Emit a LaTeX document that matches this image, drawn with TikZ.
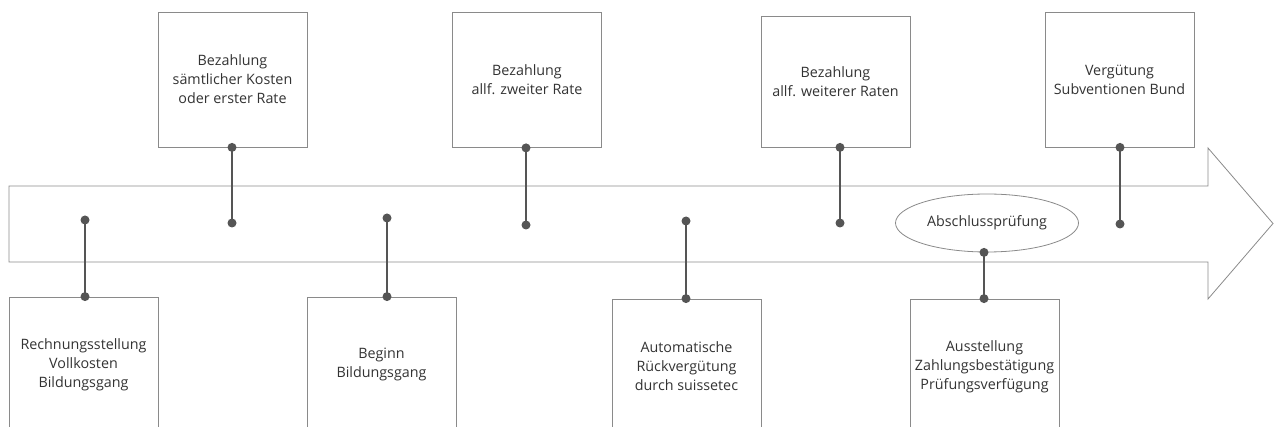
\documentclass[tikz,border=0pt]{standalone}
\usepackage{fontspec}
\setmainfont{Open Sans}
\usetikzlibrary{shapes.geometric}
\definecolor{boxline}{HTML}{8A8A8A}
\definecolor{connc}{HTML}{555555}
\definecolor{txt}{HTML}{333333}
\begin{document}
\begin{tikzpicture}[x=1pt,y=-1pt,
  box/.style={draw=boxline, line width=0.8pt, fill=white, minimum width=149pt, minimum height=135pt,
    align=center, font=\fontsize{14.3}{19}\selectfont, text=txt, inner sep=0pt},
  oval/.style={ellipse, draw=boxline, line width=0.8pt, fill=white, minimum width=183pt, minimum height=58pt,
    inner sep=0pt, font=\fontsize{14.3}{19}\selectfont, text=txt},
  dot/.style={circle, fill=connc, inner sep=0pt, minimum size=9pt},
  connline/.style={draw=connc, line width=1.6pt}]
\useasboundingbox (0,0) rectangle (1274,427);
\clip (0,0) rectangle (1274,427);
% timeline arrow
\draw[boxline, line width=0.8pt, line join=miter]
  (9,186) -- (1208,186) -- (1208,148) -- (1273,223.5) -- (1208,299) -- (1208,262) -- (9,262) -- cycle;
% top boxes
\node[box] (t1) at (232.5,79.5) {Bezahlung\\sämtlicher Kosten\\oder erster Rate};
\node[box] (t2) at (527,80) {Bezahlung\\allf. zweiter Rate};
\node[box, minimum height=131pt] (t3) at (835.5,81.5) {Bezahlung\\allf. weiterer Raten};
\node[box] (t4) at (1119.5,79.5) {Vergütung\\Subventionen Bund};
% bottom boxes
\node[box] (b1) at (83.5,364.5) {Rechnungsstellung\\Vollkosten\\Bildungsgang};
\node[box] (b2) at (381.5,364.5) {Beginn\\Bildungsgang};
\node[box] (b3) at (686.5,366.5) {Automatische\\Rückvergütung\\durch suissetec};
\node[box] (b4) at (984.5,366.5) {Ausstellung\\Zahlungsbestätigung\\Prüfungsverfügung};
% exam oval
\node[oval] (ex) at (987,223) {Abschlussprüfung};
% free ends
\coordinate (e1) at (232,223);
\coordinate (e2) at (526,225);
\coordinate (e3) at (840,223);
\coordinate (e4) at (1120,224);
\coordinate (f1) at (85,220);
\coordinate (f2) at (387,218);
\coordinate (f3) at (686,221);
\coordinate (f4) at (984,250);
% connectors
\foreach \b/\e in {t1/e1,t2/e2,t3/e3,t4/e4} {
  \draw[connline] (\b.south -| \e) -- (\e);
  \node[dot] at (\b.south -| \e) {};
  \node[dot] at (\e) {};
}
\foreach \b/\e in {b1/f1,b2/f2,b3/f3} {
  \draw[connline] (\b.north -| \e) -- (\e);
  \node[dot] at (\b.north -| \e) {};
  \node[dot] at (\e) {};
}
\draw[connline] (b4.north -| f4) -- (ex.south -| f4);
\node[dot] at (b4.north -| f4) {};
\node[dot] at (ex.south -| f4) {};
\end{tikzpicture}
\end{document}
